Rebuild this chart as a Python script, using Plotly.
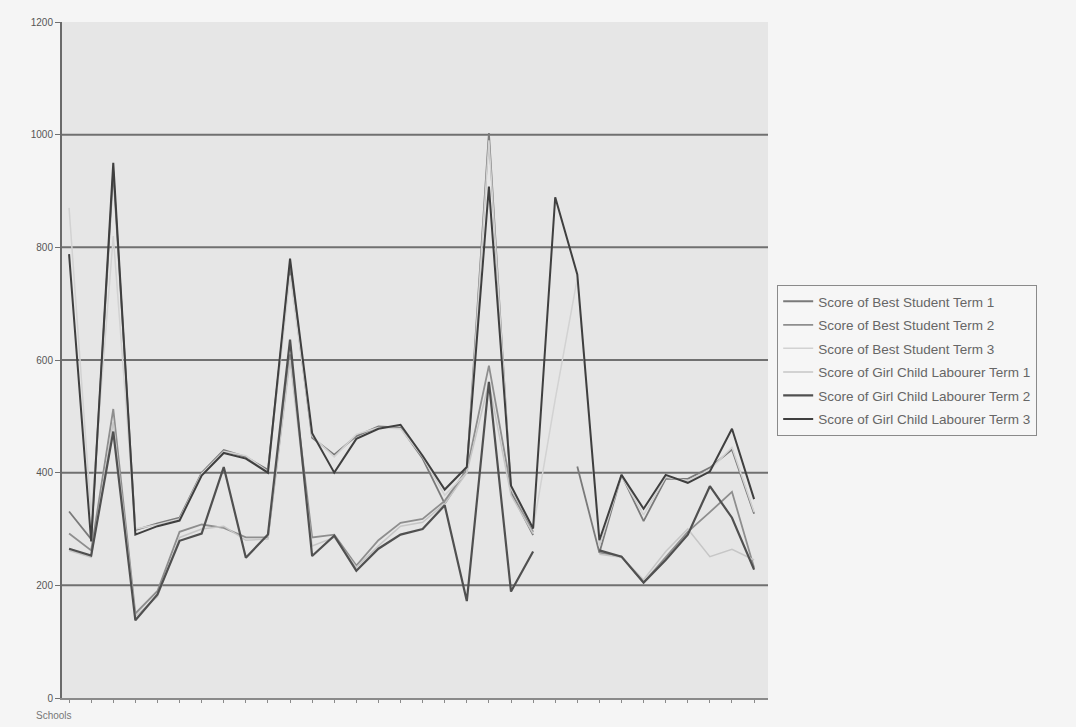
import plotly.graph_objects as go

# 32 schools along the category axis
schools = list(range(1, 33))

best_term1 = [331, 282, 935, 298, 310, 320, 400, 440, 428, 405, 765, 462, 432, 465, 482, 480,
              425, 345, 405, 1003, 365, 289, None, 411, 258, 396, 314, 389, 389, 409, 441, 327]
best_term2 = [292, 262, 513, 150, 190, 295, 308, 302, 285, 285, 610, 285, 290, 235, 280, 311,
              318, 350, 405, 590, 372, 295, None, None, 258, 251, 205, 250, 295, 330, 366, 231]
best_term3 = [870, 325, 820, 300, 308, 318, 398, 438, 430, 402, 750, 465, 428, 468, 480, 478,
              428, 360, 400, 990, 372, 300, 530, 745, 270, 394, 325, 392, 386, 405, 445, 330]
girl_term1 = [262, 250, 490, 145, 180, 285, 300, 305, 280, 282, 600, 270, 285, 232, 270, 305,
              312, 345, 400, 560, 360, 292, None, None, 255, 250, 210, 260, 300, 251, 264, 245]
girl_term2 = [265, 253, 473, 138, 184, 279, 292, 410, 249, 290, 636, 252, 288, 226, 265, 290,
              300, 342, 172, 561, 189, 260, None, None, 262, 251, 205, 245, 290, 376, 320, 228]
girl_term3 = [788, 278, 950, 290, 305, 315, 395, 435, 425, 400, 780, 470, 400, 460, 478, 485,
              430, 370, 410, 908, 377, 301, 889, 752, 280, 396, 336, 396, 382, 402, 478, 353]

series = [
    ("Score of Best Student Term 1", best_term1, "#7a7a7a", 1.8),
    ("Score of Best Student Term 2", best_term2, "#8e8e8e", 1.8),
    ("Score of Best Student Term 3", best_term3, "#d2d2d2", 1.5),
    ("Score of Girl Child Labourer Term 1", girl_term1, "#c6c6c6", 1.5),
    ("Score of Girl Child Labourer Term 2", girl_term2, "#505050", 2.2),
    ("Score of Girl Child Labourer Term 3", girl_term3, "#3f3f3f", 2.0),
]

y_ticks = [0, 200, 400, 600, 800, 1000, 1200]
grid_levels = [200, 400, 600, 800, 1000]

fig = go.Figure()
for i, (name, vals, color, width) in enumerate(series):
    fig.add_trace(go.Scatter(
        x=schools, y=vals, mode="lines", name=name,
        line=dict(color=color, width=width),
        legendgroup=f"g{i}", connectgaps=False,
    ))

# horizontal gridlines between the axis ends
for lvl in grid_levels:
    fig.add_shape(type="line", xref="paper", yref="y", x0=0, x1=1, y0=lvl, y1=lvl,
                  line=dict(color="#707070", width=2), layer="below")

fig.update_layout(
    width=1076, height=727,
    margin=dict(l=62, r=308, t=22, b=29),
    paper_bgcolor="#f5f5f5",
    plot_bgcolor="#e6e6e6",
    font=dict(family="Liberation Sans, Arial, sans-serif", color="#555555"),
    showlegend=True,
    legend=dict(
        x=1.013, y=0.611, xanchor="left", yanchor="top",
        bgcolor="#f6f6f6", bordercolor="#8a8a8a", borderwidth=1,
        font=dict(size=13.5, color="#666666"),
        tracegroupgap=3, itemwidth=30,
    ),
    annotations=[dict(text="Schools", xref="paper", yref="paper", x=-0.04, y=0,
                      xanchor="left", yanchor="top", yshift=-10, showarrow=False,
                      font=dict(size=10, color="#777777"))],
)

fig.update_xaxes(
    range=[0.68, 32.63], showgrid=False, zeroline=False,
    showline=True, linecolor="#8a8a8a", linewidth=2,
    ticks="outside", ticklen=3, tickcolor="#8a8a8a",
    tickvals=schools, showticklabels=False,
)
fig.update_yaxes(
    range=[0, 1200], tickvals=y_ticks, showgrid=False, zeroline=False,
    showline=True, linecolor="#6a6a6a", linewidth=2,
    ticks="outside", ticklen=5, tickcolor="#707070",
    tickfont=dict(size=10, color="#555555"),
)

fig.write_html("out.html")
